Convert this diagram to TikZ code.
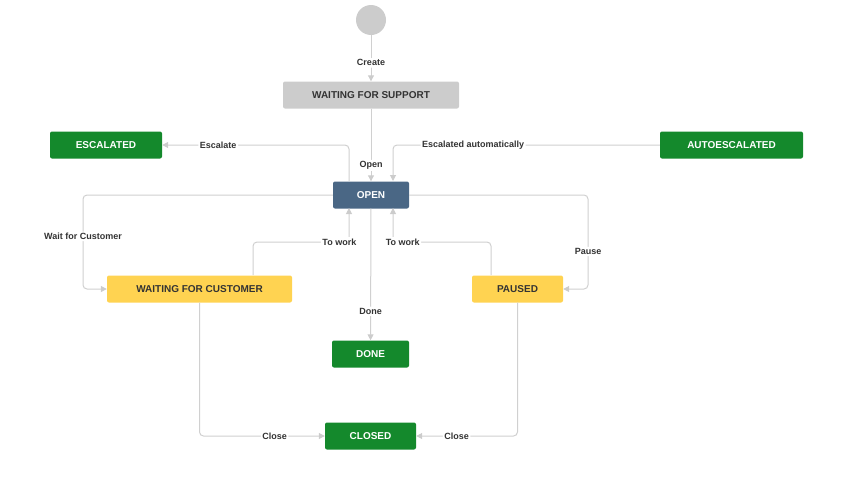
\documentclass[tikz,border=0pt]{standalone}
\usepackage{fontspec}
\setmainfont{Liberation Sans}
\usetikzlibrary{arrows.meta}
\definecolor{grn}{HTML}{14892C}
\definecolor{blu}{HTML}{4A6785}
\definecolor{yel}{HTML}{FFD351}
\definecolor{lgr}{HTML}{CCCCCC}
\definecolor{ln}{HTML}{D0D0D0}
\definecolor{txt}{HTML}{333333}
\begin{document}
\begin{tikzpicture}[x=1pt,y=-1pt,
  st/.style={rectangle,rounded corners=2pt,minimum height=27pt,font=\fontsize{10}{12}\selectfont\bfseries,inner sep=0pt},
  gn/.style={st,fill=grn,text=white},
  yw/.style={st,fill=yel,text=txt},
  e/.style={draw=ln,line width=1pt,rounded corners=4pt,-{Triangle[length=6pt,width=6pt,fill=lgr,color=lgr]}},
  lb/.style={fill=white,inner sep=1.5pt,font=\fontsize{9}{11}\selectfont\bfseries,text=txt}]
\useasboundingbox (0,0) rectangle (861,485);
\node[circle,fill=lgr,minimum size=30pt,inner sep=0pt] (s) at (371,20) {};
\node[st,fill=lgr,text=txt,minimum width=176pt] (wfs) at (371,95) {WAITING FOR SUPPORT};
\node[gn,minimum width=112pt] (esc) at (106,145) {ESCALATED};
\node[gn,minimum width=143pt] (aut) at (731.5,145) {AUTOESCALATED};
\node[st,fill=blu,text=white,minimum width=76pt] (open) at (371,195) {OPEN};
\node[yw,minimum width=185pt] (wfc) at (199.5,289) {WAITING FOR CUSTOMER};
\node[yw,minimum width=91pt] (pau) at (517.5,289) {PAUSED};
\node[gn,minimum width=77pt] (done) at (370.5,354) {DONE};
\node[gn,minimum width=91pt] (cl) at (370.5,436) {CLOSED};
\coordinate (o1) at (349,181); \coordinate (o2) at (393,181);
\coordinate (b1) at (349,208); \coordinate (b2) at (393,208);
\draw[e] (s) -- node[lb,pos=0.6]{Create} (wfs);
\draw[e] (wfs) -- node[lb,pos=0.78]{Open} (open);
\draw[e] (o1) |- node[lb,pos=0.85]{Escalate} (esc);
\draw[e] (aut) -| node[lb,pos=0.35]{Escalated automatically} (o2);
\draw[e] (open.west) -| (83,289) node[lb,pos=0.72]{Wait for Customer} -- (wfc.west);
\draw[e] (open.east) -| (588,289) node[lb,pos=0.8]{Pause} -- (pau.east);
\draw[e] (253,275) |- (349,242) node[lb,pos=0.95]{To work} -- (b1);
\draw[e] (491,275) |- (393,242) node[lb,pos=0.95]{To work} -- (b2);
\draw[e] (open) -- node[lb,pos=0.78]{Done} (done);
\draw[e] (wfc.south) |- node[lb,pos=0.8]{Close} (cl.west);
\draw[e] (pau.south) |- node[lb,pos=0.8]{Close} (cl.east);
\end{tikzpicture}
\end{document}
